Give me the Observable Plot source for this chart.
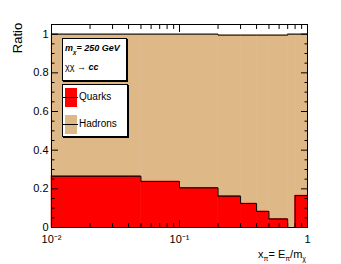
<!DOCTYPE html>
<html>
<head>
<meta charset="utf-8">
<script src="https://cdn.jsdelivr.net/npm/d3@7"></script>
<script src="https://cdn.jsdelivr.net/npm/@observablehq/plot@0.6"></script>
<style>
  body { margin: 0; background: #fff; }
  #wrap { position: relative; width: 341px; height: 264px; font-family: "Liberation Sans", Arial, sans-serif; }
  .box { position: absolute; background: #fff; border: 1px solid #000; box-shadow: 1px 1px 0 #000; box-sizing: border-box; }
  .lbl { position: absolute; white-space: nowrap; color: #000; }
  .sw { position: absolute; width: 12px; height: 19px; }
  .sw::after { content: ""; position: absolute; left: -2px; right: -1px; top: 9px; height: 1px; background: #000; }
</style>
</head>
<body>
<div id="wrap"></div>
<script>
const binEdges = [0.01, 0.05, 0.1, 0.2, 0.3, 0.4, 0.5, 0.7, 0.8, 1];
const quarks   = [0.265, 0.238, 0.205, 0.162, 0.124, 0.083, 0.044, 0.0, 0.165];
const hadrons  = [1.0, 1.0, 1.0, 0.995, 0.995, 0.995, 0.995, 1.0, 1.0];
const yMajor = [0, 0.2, 0.4, 0.6, 0.8, 1];
const yMinor = d3.range(0, 1.0001, 0.05).filter(v => Math.abs(v * 5 - Math.round(v * 5)) > 1e-6);
const xMajor = [0.01, 0.1, 1];
const xMajorLabels = ["10\u207B\u00B2", "10\u207B\u00B9", "1"];
const xMinor = [0.01, 0.1].flatMap(d => [2,3,4,5,6,7,8,9].map(k => d * k));

const red = "#ff0000", tan = "#deb887";

const bins = quarks.map((q, i) => ({x1: binEdges[i], x2: binEdges[i+1], q, h: hadrons[i]}));
const stepOf = arr => arr.map((v, i) => ({x: binEdges[i], y: v})).concat([{x: binEdges[binEdges.length-1], y: arr[arr.length-1]}]);

const tickOpts = (ticks, size, anchor) => ({anchor, ticks, tickSize: -size, tickFormat: () => "", label: null, stroke: "#000"});

const chart = Plot.plot({
  width: 341, height: 264,
  marginLeft: 51, marginRight: 34, marginTop: 24, marginBottom: 37,
  style: {fontFamily: "Liberation Sans, Arial, sans-serif", fontSize: "11px", background: "#fff", color: "#000"},
  x: {type: "log", domain: [0.01, 1]},
  y: {domain: [0, 1.05]},
  marks: [
    Plot.rectY(bins, {x1: "x1", x2: "x2", y: "h", fill: tan, inset: 0, stroke: tan, strokeWidth: 0.5}),
    Plot.rectY(bins, {x1: "x1", x2: "x2", y: "q", fill: red, inset: 0, stroke: red, strokeWidth: 0.5}),
    Plot.line(stepOf(hadrons), {x: "x", y: "y", curve: "step-after", stroke: "#000", strokeWidth: 1}),
    Plot.line(stepOf(quarks), {x: "x", y: "y", curve: "step-after", stroke: "#000", strokeWidth: 1}),
    Plot.axisY({anchor: "left", ticks: yMajor, tickSize: 0, tickPadding: 3, label: null, fontSize: 11,
      tickFormat: d => (d === 0 || d === 1) ? String(d) : d.toFixed(1)}),
    Plot.axisY(tickOpts(yMajor, 7, "left")),
    Plot.axisY(tickOpts(yMinor, 3.5, "left")),
    Plot.axisY(tickOpts(yMajor, 7, "right")),
    Plot.axisY(tickOpts(yMinor, 3.5, "right")),
    Plot.axisX({anchor: "bottom", ticks: xMajor, tickSize: 0, tickPadding: 8, label: null, fontSize: 11,
      tickFormat: d => xMajorLabels[xMajor.indexOf(d)]}),
    Plot.axisX(tickOpts(xMajor, 7, "bottom")),
    Plot.axisX(tickOpts(xMinor, 4, "bottom")),
    Plot.axisX(tickOpts(xMajor, 7, "top")),
    Plot.axisX(tickOpts(xMinor, 4, "top")),
    Plot.frame({stroke: "#000", strokeWidth: 1})
  ]
});

const wrap = document.getElementById("wrap");
wrap.appendChild(chart);

function add(html) { wrap.insertAdjacentHTML("beforeend", html); }

// axis titles
add(`<div class="lbl" style="left:17px; top:38px; width:0; height:0;"><div style="position:absolute; left:0; top:0; font-size:13px; transform: translate(-50%,-50%) rotate(-90deg);">Ratio</div></div>`);
add(`<div class="lbl" style="right:35px; top:248px; font-size:11px;">x<sub style="font-size:7px">&pi;</sub>= E<sub style="font-size:7px">&pi;</sub>/m<sub style="font-size:7px">&chi;</sub></div>`);

// info box
add(`<div class="box" style="left:62px; top:38px; width:65px; height:43px;"></div>`);
add(`<div class="lbl" style="left:65px; top:43px; font-size:9px; font-weight:bold; font-style:italic;">m<sub style="font-size:6px">&chi;</sub>= 250 GeV</div>`);
add(`<div class="lbl" style="left:65px; top:62px; font-size:9px;">&chi;&chi; &rarr; <b><i>cc</i></b></div>`);

// legend box
add(`<div class="box" style="left:62px; top:84px; width:66px; height:53px;"></div>`);
add(`<div class="sw" style="left:65px; top:88px; background:${red};"></div>`);
add(`<div class="lbl" style="left:79px; top:91px; font-size:10px;">Quarks</div>`);
add(`<div class="sw" style="left:65px; top:115px; background:${tan};"></div>`);
add(`<div class="lbl" style="left:79px; top:118px; font-size:10px;">Hadrons</div>`);
</script>
</body>
</html>
